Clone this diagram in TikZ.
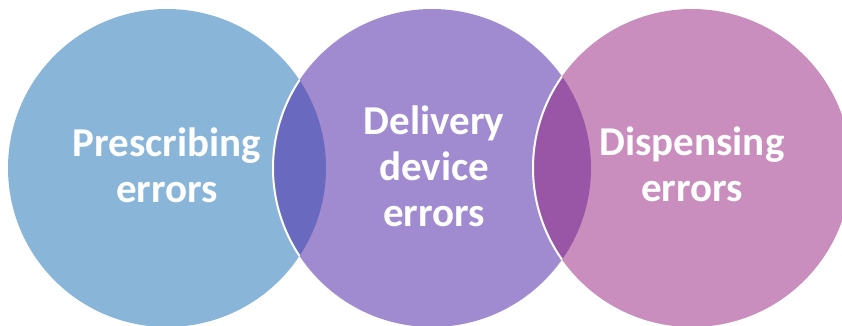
\documentclass[tikz,border=0pt]{standalone}
\usepackage{fontspec}
\setmainfont{Carlito}
\definecolor{cblue}{HTML}{88B5D8}
\definecolor{cpurple}{HTML}{A18BD0}
\definecolor{cpink}{HTML}{C98DBE}
\definecolor{lensA}{HTML}{6869BF}
\definecolor{lensB}{HTML}{9A56A6}
\tikzset{
  lbl/.style={text=white, font=\bfseries\fontsize{41}{46}\selectfont, align=center, inner sep=0pt},
  rim/.style={draw=white, line width=2pt}
}
\begin{document}
\begin{tikzpicture}[x=1pt,y=-1pt]
\useasboundingbox (0,0) rectangle (842,325);
\coordinate (cA) at (167,168);
\coordinate (cB) at (432,168);
\coordinate (cC) at (692,168);
\def\R{159}
\fill[cblue] (cA) circle[radius=\R];
\fill[cpurple] (cB) circle[radius=\R];
\fill[cpink] (cC) circle[radius=\R];
\begin{scope}
  \clip (cA) circle[radius=\R];
  \fill[lensA] (cB) circle[radius=\R];
  \draw[rim] (cB) circle[radius=\R];
\end{scope}
\begin{scope}
  \clip (cB) circle[radius=\R];
  \fill[lensB] (cC) circle[radius=\R];
  \draw[rim] (cC) circle[radius=\R];
\end{scope}
\node[lbl] (ta) at (167,165) {Prescribing\\errors};
\node[lbl] (tb) at (434,166) {Delivery\\device\\errors};
\node[lbl] (tc) at (692,164) {Dispensing\\errors};
\end{tikzpicture}
\end{document}
